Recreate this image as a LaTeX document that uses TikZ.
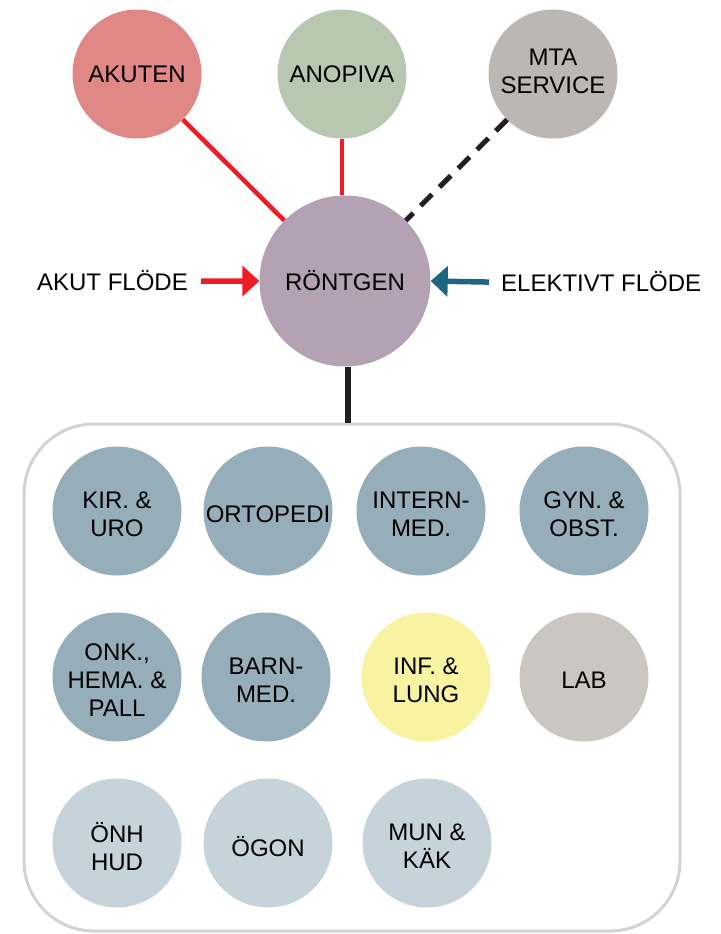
\documentclass[tikz,border=0pt]{standalone}
\usepackage{fontspec}
\setmainfont{Liberation Sans}
\usetikzlibrary{arrows.meta}

\definecolor{akutcol}{HTML}{DF8885}
\definecolor{anopcol}{HTML}{B8C7AF}
\definecolor{mtacol}{HTML}{BBB7B4}
\definecolor{rtgcol}{HTML}{B2A2B4}
\definecolor{darkunit}{HTML}{96AEBA}
\definecolor{lightunit}{HTML}{C6D3DA}
\definecolor{infcol}{HTML}{F8F3A1}
\definecolor{labcol}{HTML}{CAC7C2}
\definecolor{flowred}{HTML}{EE1C25}
\definecolor{flowteal}{HTML}{1E6582}
\definecolor{framegray}{HTML}{D3D3D3}
\definecolor{linkblack}{HTML}{231F20}

\tikzset{
  unit/.style={circle, minimum size=129pt, inner sep=0pt},
  hub/.style={unit, minimum size=171pt},
  caption/.style={inner sep=0pt, align=center, font=\fontsize{24}{28}\selectfont},
  gridcaption/.style={caption, yshift=-3.5pt},
  flowlabel/.style={inner sep=0pt, font=\fontsize{24}{28}\selectfont},
  redlink/.style={draw=flowred, line width=4.5pt},
  flowarrow/.style={line width=5.5pt, -{Triangle[length=17pt,width=30pt]}},
}

\begin{document}
\begin{tikzpicture}[x=1pt, y=-1pt]
  \useasboundingbox (0,0) rectangle (720,934);

  % frame around the clinical units
  \node[draw=framegray, line width=3pt, rounded corners=70pt,
        minimum width=656pt, minimum height=507pt] (frame) at (352,677.5) {};

  % top row: suppliers of patients
  \node[unit, fill=akutcol] (akuten) at (137,74) {};
  \node[caption] (akuten-t) at (akuten) {AKUTEN};
  \node[unit, fill=anopcol] (anopiva) at (342,74) {};
  \node[caption] (anopiva-t) at (anopiva) {ANOPIVA};
  \node[unit, fill=mtacol] (mta) at (553,74) {};
  \node[caption, yshift=3pt] (mta-t) at (mta) {MTA\\SERVICE};

  % radiology hub
  \node[hub, fill=rtgcol] (rontgen) at (345,281) {};
  \node[caption] (rontgen-t) at (rontgen) {RÖNTGEN};

  % links to the hub
  \draw[redlink] (akuten) -- (rontgen);
  \draw[redlink] (anopiva.south) -- (anopiva.south |- rontgen.north);
  \draw[linkblack, line width=5pt, dash pattern=on 16pt off 10.5pt] (mta) -- (rontgen);
  \draw[linkblack, line width=5.5pt] ([xshift=3pt]rontgen.south) -- ([xshift=3pt]rontgen.south |- frame.north);

  % incoming flows
  \node[flowlabel, anchor=base east] (akutflode) at (188,290) {AKUT FLÖDE};
  \node[flowlabel, anchor=base west] (elektivt) at (501,291) {ELEKTIVT FLÖDE};
  \draw[flowarrow, flowred] ([xshift=13pt, yshift=-1pt]akutflode.east) -- (rontgen.west);
  \draw[flowarrow, flowteal] ([xshift=-12pt, yshift=-1pt]elektivt.west) -- (rontgen.east);

  % clinical units, first row
  \node[unit, fill=darkunit] (kir) at (117,511) {};
  \node[gridcaption] (kir-t) at (kir) {KIR. \&\\URO};
  \node[unit, fill=darkunit] (orto) at (268,511) {};
  \node[gridcaption] (orto-t) at (orto) {ORTOPEDI};
  \node[unit, fill=darkunit] (intern) at (421,511) {};
  \node[gridcaption] (intern-t) at (intern) {INTERN-\\MED.};
  \node[unit, fill=darkunit] (gyn) at (584,511) {};
  \node[gridcaption] (gyn-t) at (gyn) {GYN. \&\\OBST.};

  % second row
  \node[unit, fill=darkunit] (onk) at (117,677) {};
  \node[gridcaption] (onk-t) at (onk) {ONK.,\\HEMA. \&\\PALL};
  \node[unit, fill=darkunit] (barn) at (266,677) {};
  \node[gridcaption] (barn-t) at (barn) {BARN-\\MED.};
  \node[unit, fill=infcol] (inf) at (426,677) {};
  \node[gridcaption] (inf-t) at (inf) {INF. \&\\LUNG};
  \node[unit, fill=labcol] (lab) at (584,677) {};
  \node[gridcaption] (lab-t) at (lab) {LAB};

  % third row
  \node[unit, fill=lightunit] (onh) at (117,843) {};
  \node[gridcaption] (onh-t) at (onh) {ÖNH\\HUD};
  \node[unit, fill=lightunit] (ogon) at (268,843) {};
  \node[gridcaption] (ogon-t) at (ogon) {ÖGON};
  \node[unit, fill=lightunit] (mun) at (427,843) {};
  \node[gridcaption] (mun-t) at (mun) {MUN \&\\KÄK};
\end{tikzpicture}
\end{document}
